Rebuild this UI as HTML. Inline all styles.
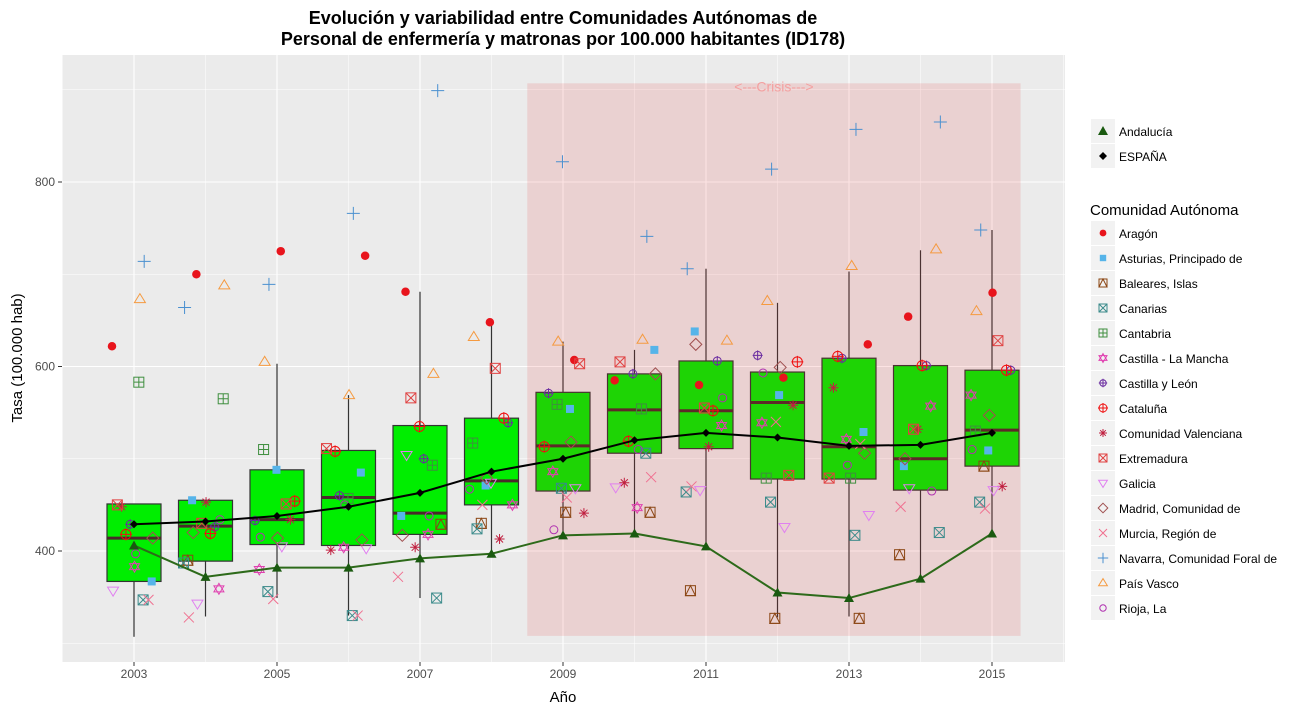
<!DOCTYPE html>
<html><head><meta charset="utf-8"><style>
body{margin:0;background:#fff;font-family:"Liberation Sans",Arial,sans-serif;}
svg text{font-family:"Liberation Sans",Arial,sans-serif;}
</style></head><body>
<svg id="chart" width="1299" height="710" xmlns="http://www.w3.org/2000/svg">
<rect width="1299" height="710" fill="#fff"/>
<text x="563" y="24" text-anchor="middle" font-size="18" font-weight="bold" fill="#000">Evolución y variabilidad entre Comunidades Autónomas de</text>
<text x="563" y="45" text-anchor="middle" font-size="18" font-weight="bold" fill="#000">Personal de enfermería y matronas por 100.000 habitantes (ID178)</text>
<rect x="62" y="55" width="1003" height="607" fill="#ebebeb"/>
<g id="grid"></g>
<g id="boxes"></g>
<g id="crisis"></g>
<g id="points"></g>
<g id="lines"></g>
<g id="axes"></g>
<g id="legend"></g>
<text transform="translate(22,358) rotate(-90)" text-anchor="middle" font-size="15" fill="#000">Tasa (100.000 hab)</text>
<text x="563" y="702" text-anchor="middle" font-size="15" fill="#000">Año</text>
</svg>
<script>
const years=[2003,2004,2005,2006,2007,2008,2009,2010,2011,2012,2013,2014,2015];
const boxQ1=[367,389,407,406,418,450,465,506,511,478,478,466,492];
const boxMedian=[414,427,434,458,441,476,514,553,552,561,513,500,531];
const boxQ3=[451,455,488,509,536,544,572,592,606,594,609,601,596];
const whiskerLow=[307,329,349,330,349,397,417,419,405,328,329,370,419];
const whiskerHigh=[451,455,603,569,681,648,627,618,706,669,703,726,748];
const espana=[429,432,438,448,463,486,500,520,528,523,514,515,528];
const andalucia=[406,372,382,382,392,397,417,419,405,355,349,370,419];
const xTicks=[2003,2005,2007,2009,2011,2013,2015];
const yTicks=[400,600,800];
const crisisStart=2008.5, crisisEnd=2015.4, crisisLow=308, crisisHigh=907;
const communities=["Aragón","Asturias, Principado de","Baleares, Islas","Canarias","Cantabria","Castilla - La Mancha","Castilla y León","Cataluña","Comunidad Valenciana","Extremadura","Galicia","Madrid, Comunidad de","Murcia, Región de","Navarra, Comunidad Foral de","País Vasco","Rioja, La"];
const vAragon=[622,700,725,720,681,648,607,585,580,588,624,654,680];
const vAsturias=[367,455,488,485,438,471,554,618,638,569,529,492,509];
const vBaleares=[null,390,null,null,429,430,442,442,357,327,327,396,492];
const vCanarias=[347,387,356,330,349,424,468,506,464,453,417,420,453];
const vCantabria=[583,565,510,457,493,517,559,554,null,479,479,null,530];
const vCLM=[383,359,380,404,418,450,486,447,536,539,521,557,569];
const vCyL=[429,426,433,460,500,539,571,592,606,612,609,601,596];
const vCataluna=[418,419,454,508,535,544,513,519,552,605,611,601,596];
const vValencia=[448,453,434,401,404,413,441,474,513,558,577,532,470];
const vExtremadura=[450,430,451,511,566,598,603,605,555,482,479,532,628];
const vGalicia=[357,343,405,403,504,474,468,469,466,426,439,468,466];
const vMadrid=[414,420,414,412,417,479,518,592,624,599,506,500,547];
const vMurcia=[347,328,348,330,372,450,458,480,470,540,516,448,446];
const vNavarra=[714,664,689,766,899,null,822,741,706,814,857,865,748];
const vPaisVasco=[673,688,605,569,592,632,627,629,628,671,709,727,660];
const vRioja=[397,434,415,450,438,467,423,510,566,593,493,465,510];
const seriesVals=[vAragon,vAsturias,vBaleares,vCanarias,vCantabria,vCLM,vCyL,vCataluna,vValencia,vExtremadura,vGalicia,vMadrid,vMurcia,vNavarra,vPaisVasco,vRioja];
const colors=["#e8141c","#56b4e9","#8b4513","#3a8a8a","#3f8f3f","#e040b0","#6a2ca0","#f01010","#c02040","#e04040","#e080f0","#a05050","#f07090","#4a90d0","#f59a40","#b030b0"];
const shapes=["dot","sq","sqtri","sqx","grid","star","cplus","cplusbig","ast","sqx2","tridown","diamond","x","plus","tri","circ"];

const NS="http://www.w3.org/2000/svg";
const X0=62,X1=1065,Y0=55,Y1=662;
function xs(yr){return 134+(yr-2003)*71.5;}
function ys(v){return 551-(v-400)*0.9225;}
function mk(tag,attrs,parent){const e=document.createElementNS(NS,tag);for(const k in attrs)e.setAttribute(k,attrs[k]);parent.appendChild(e);return e;}

const grid=document.getElementById('grid');
for(let y=2002.0;y<=2016;y+=1){
  const major=(Math.round(y)%2===1);
  const l=mk('line',{x1:xs(y),x2:xs(y),y1:Y0,y2:Y1,stroke:'#fff','stroke-width':major?1.1:0.5},grid);
  
  
}
for(let v=300;v<=900;v+=100){
  const major=(v%200===0);
  const l=mk('line',{x1:X0,x2:X1,y1:ys(v),y2:ys(v),stroke:'#fff','stroke-width':major?1.1:0.5},grid);
  
  
}

const boxes=document.getElementById('boxes');
years.forEach((yr,i)=>{
  const cx=xs(yr),hw=27;
  const g=mk('g',{},boxes);
  
  
  mk('line',{x1:cx,x2:cx,y1:ys(whiskerHigh[i]),y2:ys(boxQ3[i]),stroke:'#333','stroke-width':1.2},g);
  mk('line',{x1:cx,x2:cx,y1:ys(boxQ1[i]),y2:ys(whiskerLow[i]),stroke:'#333','stroke-width':1.2},g);
  mk('rect',{x:cx-hw,y:ys(boxQ3[i]),width:2*hw,height:ys(boxQ1[i])-ys(boxQ3[i]),fill:'#00ee00',stroke:'#333','stroke-width':1.2},g);
  mk('line',{x1:cx-hw,x2:cx+hw,y1:ys(boxMedian[i]),y2:ys(boxMedian[i]),stroke:'#4a2a2a','stroke-width':3},g);
});

const crisis=document.getElementById('crisis');
const cr=mk('rect',{x:xs(crisisStart),y:ys(crisisHigh),width:xs(crisisEnd)-xs(crisisStart),height:ys(crisisLow)-ys(crisisHigh),fill:'rgba(230,40,40,0.13)'},crisis);


const ct=mk('text',{x:(xs(crisisStart)+xs(crisisEnd))/2,y:ys(crisisHigh)+8,'text-anchor':'middle','font-size':14,fill:'#f4a0a0'},crisis);
ct.textContent='<---Crisis--->';



function drawShape(parent,shape,x,y,c,s){
  s=s||5;
  const st={fill:'none',stroke:c,'stroke-width':1};
  if(shape==='dot')mk('circle',{cx:x,cy:y,r:s*0.85,fill:c},parent);
  else if(shape==='sq')mk('rect',{x:x-s*0.8,y:y-s*0.8,width:s*1.6,height:s*1.6,fill:c},parent);
  else if(shape==='sqtri'){mk('rect',Object.assign({x:x-s,y:y-s,width:2*s,height:2*s},st),parent);mk('polygon',Object.assign({points:`${x-s},${y+s} ${x},${y-s} ${x+s},${y+s}`},st),parent);}
  else if(shape==='sqx'||shape==='sqx2'){mk('rect',Object.assign({x:x-s,y:y-s,width:2*s,height:2*s},st),parent);mk('path',Object.assign({d:`M${x-s},${y-s}L${x+s},${y+s}M${x-s},${y+s}L${x+s},${y-s}`},st),parent);}
  else if(shape==='grid'){mk('rect',Object.assign({x:x-s,y:y-s,width:2*s,height:2*s},st),parent);mk('path',Object.assign({d:`M${x-s},${y}L${x+s},${y}M${x},${y-s}L${x},${y+s}`},st),parent);}
  else if(shape==='star'){mk('polygon',Object.assign({points:`${x-s},${y-s*0.6} ${x+s},${y-s*0.6} ${x},${y+s*1.1}`},st),parent);mk('polygon',Object.assign({points:`${x-s},${y+s*0.6} ${x+s},${y+s*0.6} ${x},${y-s*1.1}`},st),parent);}
  else if(shape==='cplus'||shape==='cplusbig'){const r=shape==='cplus'?s*0.8:s;mk('circle',Object.assign({cx:x,cy:y,r:r},st),parent);mk('path',Object.assign({d:`M${x-r-1},${y}L${x+r+1},${y}M${x},${y-r-1}L${x},${y+r+1}`},st),parent);}
  else if(shape==='ast')mk('path',Object.assign({d:`M${x-s},${y}L${x+s},${y}M${x},${y-s}L${x},${y+s}M${x-s*0.7},${y-s*0.7}L${x+s*0.7},${y+s*0.7}M${x-s*0.7},${y+s*0.7}L${x+s*0.7},${y-s*0.7}`},st),parent);
  else if(shape==='tridown')mk('polygon',Object.assign({points:`${x-s*1.1},${y-s*0.7} ${x+s*1.1},${y-s*0.7} ${x},${y+s*1.1}`},st),parent);
  else if(shape==='tri')mk('polygon',Object.assign({points:`${x-s*1.1},${y+s*0.7} ${x+s*1.1},${y+s*0.7} ${x},${y-s*1.1}`},st),parent);
  else if(shape==='diamond')mk('polygon',Object.assign({points:`${x},${y-s*1.2} ${x+s*1.2},${y} ${x},${y+s*1.2} ${x-s*1.2},${y}`},st),parent);
  else if(shape==='x')mk('path',Object.assign({d:`M${x-s},${y-s}L${x+s},${y+s}M${x-s},${y+s}L${x+s},${y-s}`},st),parent);
  else if(shape==='plus')mk('path',Object.assign({d:`M${x-s*1.3},${y}L${x+s*1.3},${y}M${x},${y-s*1.3}L${x},${y+s*1.3}`},st),parent);
  else if(shape==='circ')mk('circle',Object.assign({cx:x,cy:y,r:s*0.8},st),parent);
}

const pts=document.getElementById('points');
seriesVals.forEach((arr,ci)=>{
  arr.forEach((v,i)=>{
    if(v===null)return;
    const jit=(((ci*37+i*53)%41)/41-0.5)*44;
    const g=mk('g',{},pts);
    
    
    drawShape(g,shapes[ci],xs(years[i])+jit,ys(v),colors[ci],5);
  });
});

const lines=document.getElementById('lines');
const la=mk('polyline',{points:years.map((y,i)=>xs(y)+','+ys(andalucia[i])).join(' '),fill:'none',stroke:'#2d6a1a','stroke-width':2},lines);


years.forEach((y,i)=>{const t=mk('polygon',{points:`${xs(y)-5},${ys(andalucia[i])+4} ${xs(y)+5},${ys(andalucia[i])+4} ${xs(y)},${ys(andalucia[i])-5}`,fill:'#1a5a10'},lines);
  
  });
const le=mk('polyline',{points:years.map((y,i)=>xs(y)+','+ys(espana[i])).join(' '),fill:'none',stroke:'#000','stroke-width':2},lines);


years.forEach((y,i)=>{const cx=xs(y),cy=ys(espana[i]);const d=mk('polygon',{points:`${cx},${cy-4} ${cx+4},${cy} ${cx},${cy+4} ${cx-4},${cy}`,fill:'#000'},lines);
  
  });

const axes=document.getElementById('axes');
xTicks.forEach(t=>{
  mk('line',{x1:xs(t),x2:xs(t),y1:Y1,y2:Y1+4,stroke:'#333'},axes);
  const tx=mk('text',{x:xs(t),y:Y1+16,'text-anchor':'middle','font-size':12,fill:'#4d4d4d'},axes);
  tx.textContent=t;
  
  
});
yTicks.forEach(t=>{
  mk('line',{x1:X0-4,x2:X0,y1:ys(t),y2:ys(t),stroke:'#333'},axes);
  const tx=mk('text',{x:X0-7,y:ys(t)+4,'text-anchor':'end','font-size':12,fill:'#4d4d4d'},axes);
  tx.textContent=t;
  
  
});

const leg=document.getElementById('legend');
function legKey(y){mk('rect',{x:1091,y:y-12,width:24,height:24,fill:'#f2f2f2'},leg);}
legKey(131);
mk('polygon',{points:'1098,135 1108,135 1103,126',fill:'#1a5a10'},leg);
let t1=mk('text',{x:1119,y:136,'font-size':12,fill:'#000'},leg);t1.textContent='Andalucía';


legKey(156);
mk('polygon',{points:'1103,152 1107,156 1103,160 1099,156',fill:'#000'},leg);
let t2=mk('text',{x:1119,y:161,'font-size':12,fill:'#000'},leg);t2.textContent='ESPAÑA';


let lt=mk('text',{x:1090,y:215,'font-size':15,fill:'#000'},leg);lt.textContent='Comunidad Autónoma';


communities.forEach((n,i)=>{
  const y=233+i*25;
  legKey(y);
  const g=mk('g',{},leg);
  
  
  drawShape(g,shapes[i],1103,y,colors[i],4);
  const tx=mk('text',{x:1119,y:y+5,'font-size':12,fill:'#000'},g);
  tx.textContent=n;
});
</script>
</body></html>
